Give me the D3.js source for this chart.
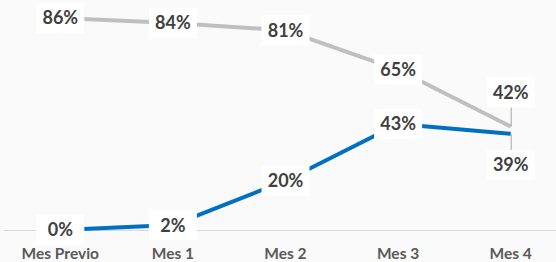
<!DOCTYPE html>
<html>
<head>
    <meta charset="utf-8">
    <title>Mes Previo - Mes 4</title>
    <script src="https://cdnjs.cloudflare.com/ajax/libs/d3/7.8.5/d3.min.js"></script>
    <style>
        body { margin: 0; background: #fafafa; }
    </style>
</head>
<body>
<div id="chart"></div>
<script>
    var months = ["Mes Previo", "Mes 1", "Mes 2", "Mes 3", "Mes 4"];
    var grayValues = [0.86, 0.84, 0.81, 0.65, 0.42];
    var blueValues = [0.00, 0.02, 0.20, 0.43, 0.39];

    var width = 556, height = 262;
    var svg = d3.select("#chart").append("svg")
        .attr("width", width)
        .attr("height", height)
        .style("background", "#fafafa");

    var x = d3.scaleBand().domain(months).range([4, 4 + 5 * 112.6]);
    var y = d3.scaleLinear().domain([0, 1]).range([230, -16.5]);
    function cx(d) { return x(d) + x.bandwidth() / 2; }

    // axis line
    svg.append("line")
        .attr("x1", 4).attr("x2", width)
        .attr("y1", y(0) + 0.5).attr("y2", y(0) + 0.5)
        .attr("stroke", "#d9d9d9").attr("stroke-width", 1);

    // category labels
    svg.selectAll("text.cat")
        .data(months)
        .enter().append("text")
        .attr("class", "cat")
        .attr("x", cx)
        .attr("y", 259)
        .attr("text-anchor", "middle")
        .attr("font-family", "Lato, 'Open Sans', sans-serif")
        .attr("font-weight", "bold")
        .attr("font-size", "15.5px")
        .attr("fill", "#595959")
        .text(function (d) { return d; });

    var series = [
        { values: grayValues, color: "#bfbfbf", lastOffset: -34 },
        { values: blueValues, color: "#0070c0", lastOffset: 31 }
    ];

    var line = d3.line()
        .x(function (d) { return cx(d.m); })
        .y(function (d) { return y(d.v); });

    series.forEach(function (s) {
        var pts = s.values.map(function (v, i) { return { m: months[i], v: v }; });
        svg.append("path")
            .datum(pts)
            .attr("d", line)
            .attr("fill", "none")
            .attr("stroke", s.color)
            .attr("stroke-width", 4)
            .attr("stroke-linejoin", "round");
        s.pts = pts;
    });

    // labels
    series.forEach(function (s) {
        s.pts.forEach(function (d, i) {
            var px = cx(d.m), py = y(d.v);
            var ly = py;
            if (i == s.pts.length - 1) {
                ly = py + s.lastOffset;
                var edge = s.lastOffset < 0 ? ly + 14 : ly - 14;
                svg.append("line")
                    .attr("x1", px + 0.5).attr("x2", px + 0.5)
                    .attr("y1", py).attr("y2", edge)
                    .attr("stroke", "#a6a6a6").attr("stroke-width", 1);
            }
            var g = svg.append("g").attr("transform", "translate(" + px + "," + ly + ")");
            g.append("rect")
                .attr("x", -24).attr("y", -15)
                .attr("width", 48).attr("height", 30)
                .attr("fill", "#ffffff");
            g.append("text")
                .attr("text-anchor", "middle")
                .attr("dy", "0.36em")
                .attr("font-family", "Lato, 'Open Sans', sans-serif")
                .attr("font-weight", "bold")
                .attr("font-size", "18px")
                .attr("fill", "#404040")
                .text(Math.round(d.v * 100) + "%");
        });
    });
</script>
</body>
</html>
